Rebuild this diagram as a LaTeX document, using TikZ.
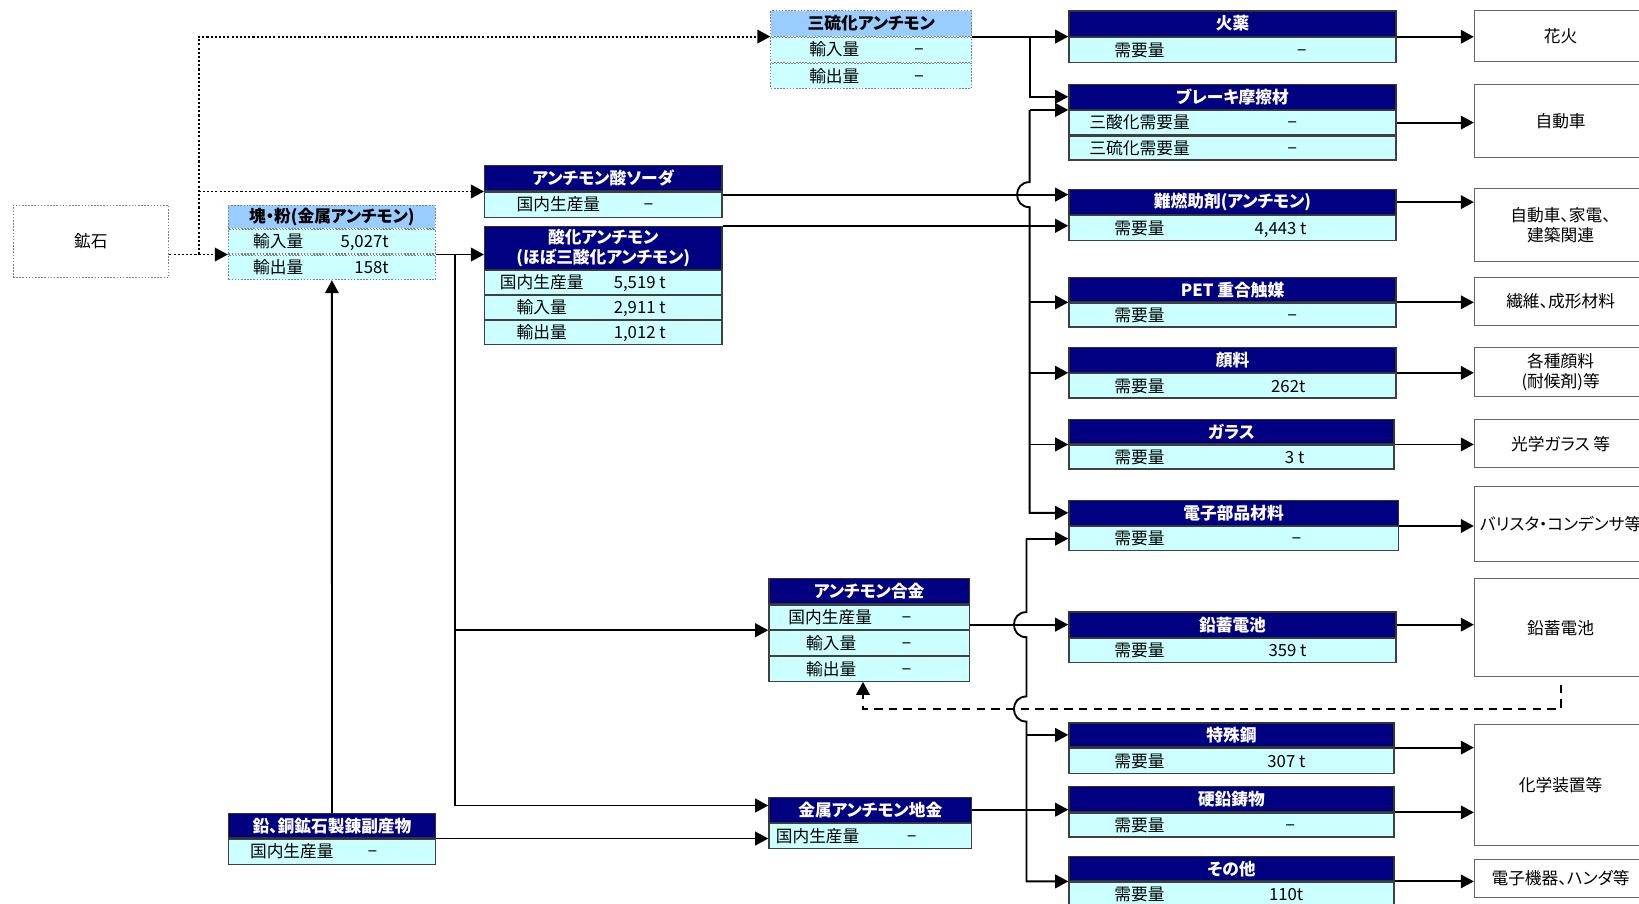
\documentclass[tikz,border=0pt]{standalone}
\usepackage{fontspec}
\setmainfont{Noto Sans CJK JP}[RawFeature=+palt]
\usetikzlibrary{arrows.meta,calc}
\definecolor{navyhead}{HTML}{000080}
\definecolor{cyancell}{HTML}{CCFFFF}
\definecolor{skyhead}{HTML}{99CCFF}
\newcommand{\jpsize}{\fontsize{16}{19}\selectfont}
\newcommand{\nildash}{\makebox[0pt]{−}}
% one data row under a header: [opts]{name}{at}{width}{label x}{label}{value x}{value}
\newcommand{\datarow}[8][]{%
  \node[cell,minimum width=#4,#1] (#2) at (#3) {};
  \node[txt,anchor=west] at ([xshift=#5]#2.west) {#6};
  \node[txt,anchor=east] at ([xshift=#7]#2.west) {#8};
}
\begin{document}
\begin{tikzpicture}[x=1pt,y=-1pt,
    hdr/.style={draw=black!80,line width=1.2pt,fill=navyhead,text=white,font=\jpsize\bfseries,inner sep=0pt,anchor=north west,align=center},
    skyhdr/.style={hdr,draw=gray,dash pattern=on 1.5pt off 1.5pt,line width=1pt,fill=skyhead,text=black},
    cell/.style={draw=black!75,line width=1.2pt,fill=cyancell,inner sep=0pt,anchor=north west,minimum height=23.5},
    dotcell/.style={cell,draw=gray,dash pattern=on 1.5pt off 1.5pt,line width=1pt},
    txt/.style={font=\jpsize,inner sep=0pt,text height=13.8pt,text depth=1.8pt},
    enduse/.style={draw=black!60,line width=1pt,fill=white,anchor=north west,minimum width=165,inner sep=0pt,font=\jpsize,align=center},
    flow/.style={line width=1.8pt,-{Triangle[length=12.5pt,width=13pt]}},
    dotflow/.style={flow,dash pattern=on 2pt off 2pt},
    dashflow/.style={flow,dash pattern=on 8pt off 6pt}]
\useasboundingbox (0,0) rectangle (1568,864);
\clip (0,0) rectangle (1568,864);
\fill[white] (0,0) rectangle (1568,864);

% raw materials
\node[draw=gray,dash pattern=on 1.5pt off 1.5pt,line width=1pt,anchor=north west,minimum width=149,minimum height=69,font=\jpsize] (ore) at (12,196) {鉱石};

\node[skyhdr,minimum width=198,minimum height=22] (lump-h) at (218,196) {塊・粉(金属アンチモン)};
\datarow[dotcell]{lump-1}{lump-h.south west}{198}{24}{輸入量}{154}{5,027t}
\datarow[dotcell]{lump-2}{lump-1.south west}{198}{24}{輸出量}{154}{158t}

\node[hdr,minimum width=198,minimum height=23] (byprod-h) at (218,778) {鉛、銅鉱石製錬副産物};
\datarow[minimum height=24]{byprod-1}{byprod-h.south west}{198}{21}{国内生産量}{139}{\nildash}

% intermediate products
\node[skyhdr,minimum width=192,minimum height=24] (tri-h) at (737,10) {三硫化アンチモン};
\datarow[dotcell,minimum height=24]{tri-1}{tri-h.south west}{192}{37}{輸入量}{143}{\nildash}
\datarow[dotcell,minimum height=24]{tri-2}{tri-1.south west}{192}{37}{輸出量}{143}{\nildash}

\node[hdr,minimum width=227,minimum height=24] (soda-h) at (463,158) {アンチモン酸ソーダ};
\datarow[minimum height=24]{soda-1}{soda-h.south west}{227}{31}{国内生産量}{158}{\nildash}

\node[hdr,minimum width=227,minimum height=41] (oxide-h) at (463,216) {酸化アンチモン\\(ほぼ三酸化アンチモン)};
\datarow[minimum height=22.7]{oxide-1}{oxide-h.south west}{227}{15}{国内生産量}{174}{5,519 t}
\datarow[minimum height=22.7]{oxide-2}{oxide-1.south west}{227}{31}{輸入量}{174}{2,911 t}
\datarow[minimum height=22.7]{oxide-3}{oxide-2.south west}{227}{31}{輸出量}{174}{1,012 t}

\node[hdr,minimum width=192,minimum height=24] (alloy-h) at (735,553) {アンチモン合金};
\datarow{alloy-1}{alloy-h.south west}{192}{19}{国内生産量}{133}{\nildash}
\datarow{alloy-2}{alloy-1.south west}{192}{36}{輸入量}{133}{\nildash}
\datarow{alloy-3}{alloy-2.south west}{192}{36}{輸出量}{133}{\nildash}

\node[hdr,minimum width=194,minimum height=24] (ingot-h) at (735,762) {金属アンチモン地金};
\datarow[minimum height=24]{ingot-1}{ingot-h.south west}{194}{7}{国内生産量}{138}{\nildash}

% demand
\node[hdr,minimum width=313,minimum height=24] (fire-h) at (1022,10) {火薬};
\datarow[minimum height=24]{fire-1}{fire-h.south west}{313}{44}{需要量}{224}{\nildash}

\node[hdr,minimum width=313,minimum height=24] (brake-h) at (1022,80) {ブレーキ摩擦材};
\datarow[minimum height=23]{brake-1}{brake-h.south west}{313}{20}{三酸化需要量}{215}{\nildash}
\datarow[minimum height=23]{brake-2}{brake-1.south west}{313}{20}{三硫化需要量}{215}{\nildash}

\node[hdr,minimum width=313,minimum height=23.5] (flame-h) at (1022,181) {難燃助剤(アンチモン)};
\datarow{flame-1}{flame-h.south west}{313}{44}{需要量}{228}{4,443 t}

\node[hdr,minimum width=313,minimum height=23] (pet-h) at (1022,265) {PET 重合触媒};
\datarow[minimum height=23]{pet-1}{pet-h.south west}{313}{44}{需要量}{215}{\nildash}

\node[hdr,minimum width=313,minimum height=23.5] (pig-h) at (1022,332) {顔料};
\datarow{pig-1}{pig-h.south west}{313}{44}{需要量}{227}{262t}

\node[hdr,minimum width=311,minimum height=23] (glass-h) at (1022,401) {ガラス};
\datarow[minimum height=23]{glass-1}{glass-h.south west}{311}{44}{需要量}{226}{3 t}

\node[hdr,minimum width=315,minimum height=24] (elec-h) at (1022,478) {電子部品材料};
\datarow[minimum height=23]{elec-1}{elec-h.south west}{315}{44}{需要量}{219}{\nildash}

\node[hdr,minimum width=313,minimum height=24] (batt-h) at (1022,585) {鉛蓄電池};
\datarow[minimum height=23]{batt-1}{batt-h.south west}{313}{44}{需要量}{228}{359 t}

\node[hdr,minimum width=311,minimum height=23] (steel-h) at (1022,691) {特殊鋼};
\datarow[minimum height=24]{steel-1}{steel-h.south west}{311}{44}{需要量}{227}{307 t}

\node[hdr,minimum width=311,minimum height=24] (hard-h) at (1022,752) {硬鉛鋳物};
\datarow[minimum height=23]{hard-1}{hard-h.south west}{311}{44}{需要量}{213}{\nildash}

\node[hdr,minimum width=311,minimum height=23] (other-h) at (1022,819) {その他};
\datarow[minimum height=24]{other-1}{other-h.south west}{311}{44}{需要量}{225}{110t}

% end uses
\node[enduse,minimum height=48] (hanabi) at (1410,10) {花火};
\node[enduse,minimum height=70] (car) at (1410,80) {自動車};
\node[enduse,minimum height=70] (home) at (1410,180) {自動車、家電、\\建築関連};
\node[enduse,minimum height=46] (fiber) at (1410,265) {繊維、成形材料};
\node[enduse,minimum height=47] (pigm) at (1410,332) {各種顔料\\(耐候剤)等};
\node[enduse,minimum height=46] (optic) at (1410,401) {光学ガラス 等};
\node[enduse,minimum height=72] (varistor) at (1410,465) {バリスタ・コンデンサ等};
\node[enduse,minimum height=94] (leadbat) at (1410,553) {鉛蓄電池};
\node[enduse,minimum height=115] (chem) at (1410,693) {化学装置等};
\node[enduse,minimum height=36] (device) at (1410,822) {電子機器、ハンダ等};

% ore routes
\coordinate (oresplit) at (190,0);
\draw[dotflow] (ore.east |- lump-1.south west) -- (lump-1.south west);
\draw[dotflow] (oresplit |- lump-1.south west) |- (tri-h.south west);
\draw[dotflow] (oresplit |- soda-h.south west) -- (soda-h.south west);

% metal routes
\coordinate (trunk) at (435,0);
\draw[flow] (lump-1.south east) -- (lump-1.south east -| oxide-h.west);
\draw[flow] (trunk |- lump-1.south east) |- ([yshift=4]ingot-h.west);
\draw[flow] (trunk |- alloy-1.south west) -- (alloy-1.south west);
\draw[flow] (byprod-h.north) -- (lump-2.south);
\draw[flow] (byprod-1.north east) -- (byprod-1.north east -| ingot-1.west);

% upper bus
\coordinate (busA) at (985,0);
\coordinate (busB) at (982,0);
\draw[flow] (tri-h.south east) -- (tri-h.south east -| fire-h.west);
\draw[flow] (busA |- tri-h.south east) |- (brake-h.west);
\coordinate (sodaout) at ([yshift=-3]soda-1.north east);
\draw[flow] (sodaout) -- (sodaout -| flame-h.west);
\draw[flow] (oxide-h.north east) -- (oxide-h.north east -| flame-1.west);
\coordinate (jumpA) at (busA |- sodaout);
\draw[flow] (busA |- brake-h.south west) -- (brake-h.south west);
\draw[flow] (busA |- brake-h.south west) -- ([yshift=12]jumpA) .. controls ([xshift=-16,yshift=12]jumpA) and ([xshift=-16,yshift=-12]jumpA) .. ([yshift=-12]jumpA) |- (elec-h.west);
\foreach \dst in {pet-h,pig-h,glass-h}
  \draw[flow] (busA |- \dst.south west) -- (\dst.south west);

% lower bus
\coordinate (alloyout) at (alloy-1.east |- batt-h.west);
\draw[flow] (alloyout) -- (batt-h.west);
\coordinate (fbturn) at ([xshift=-6,yshift=-26]alloy-3.south);
\draw[dashflow] ([yshift=-7]leadbat.south) |- (fbturn) -- ([xshift=-6]alloy-3.south);
\coordinate (jumpB) at (busB |- alloyout);
\coordinate (jumpC) at (busB |- fbturn);
\draw[flow] (ingot-h.east) -- (ingot-h.east -| hard-h.west);
\draw[flow] (busB |- elec-1.west) -- (elec-1.west);
\draw[flow] (busB |- elec-1.west) -- ([yshift=12]jumpB) .. controls ([xshift=-16,yshift=12]jumpB) and ([xshift=-16,yshift=-12]jumpB) .. ([yshift=-12]jumpB) -- ([yshift=12]jumpC) .. controls ([xshift=-16,yshift=12]jumpC) and ([xshift=-16,yshift=-12]jumpC) .. ([yshift=-12]jumpC) |- (other-h.south west);
\draw[flow] (busB |- steel-h.west) -- (steel-h.west);

% to end uses
\draw[flow] (fire-h.south east) -- (fire-h.south east -| hanabi.west);
\draw[flow] (brake-1.east) -- (brake-1.east -| car.west);
\draw[flow] (flame-h.east) -- (flame-h.east -| home.west);
\draw[flow] (batt-h.east) -- (batt-h.east -| leadbat.west);
\foreach \src/\dst in {pet-h/fiber,pig-h/pigm,glass-h/optic,elec-h/varistor,steel-h/chem,hard-h/chem,other-h/device}
  \draw[flow] (\src.south east) -- (\src.south east -| \dst.west);
\end{tikzpicture}
\end{document}
